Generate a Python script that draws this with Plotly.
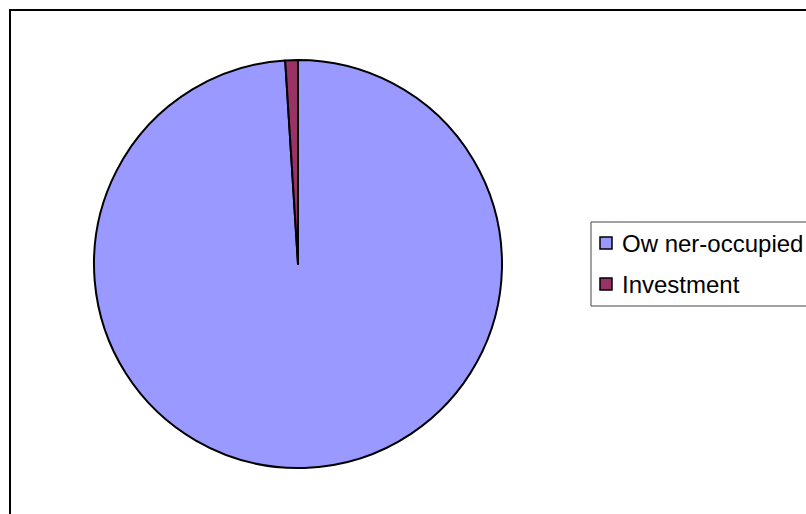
import plotly.graph_objects as go

labels = ["Ow ner-occupied", "Investment"]
values = [99, 1]
colors = ["#9999FF", "#993366"]

W, H = 806, 514

fig = go.Figure()
fig.add_trace(go.Pie(
    labels=labels,
    values=values,
    marker=dict(colors=colors, line=dict(color="#000000", width=2)),
    sort=False,
    direction="clockwise",
    rotation=0,
    textinfo="none",
    hoverinfo="label+percent",
    showlegend=False,
    domain=dict(x=[94 / W, 502 / W], y=[(H - 468) / H, (H - 60) / H]),
))

# Legend drawn as paper-positioned shapes + text (layout only)
leg_left, leg_top, leg_bottom = 591, 222, 306
row_y = [243, 284]
shapes = [
    dict(type="rect", xref="paper", yref="paper",
         x0=10 / W, y0=-0.02, x1=1.02, y1=1 - 10 / H,
         line=dict(color="#000000", width=2), fillcolor="rgba(0,0,0,0)"),
    dict(type="rect", xref="paper", yref="paper",
         x0=leg_left / W, y0=1 - leg_bottom / H, x1=1.02, y1=1 - leg_top / H,
         line=dict(color="#444444", width=1), fillcolor="white"),
]
annotations = []
for lab, col, ry in zip(labels, colors, row_y):
    shapes.append(dict(type="rect", xref="paper", yref="paper",
                       x0=600 / W, x1=612 / W, y0=1 - (ry + 6) / H, y1=1 - (ry - 6) / H,
                       line=dict(color="#000000", width=1.5), fillcolor=col))
    annotations.append(dict(text=lab, xref="paper", yref="paper",
                            x=620 / W, y=1 - ry / H, xanchor="left", yanchor="middle",
                            showarrow=False,
                            font=dict(family="Liberation Sans, Arial, sans-serif", size=24, color="#000000")))

fig.update_layout(
    width=W, height=H,
    margin=dict(l=0, r=0, t=0, b=0),
    paper_bgcolor="white",
    plot_bgcolor="white",
    font=dict(family="Liberation Sans, Arial, sans-serif", size=24, color="#000000"),
    shapes=shapes,
    annotations=annotations,
)

fig.write_html("out.html")
